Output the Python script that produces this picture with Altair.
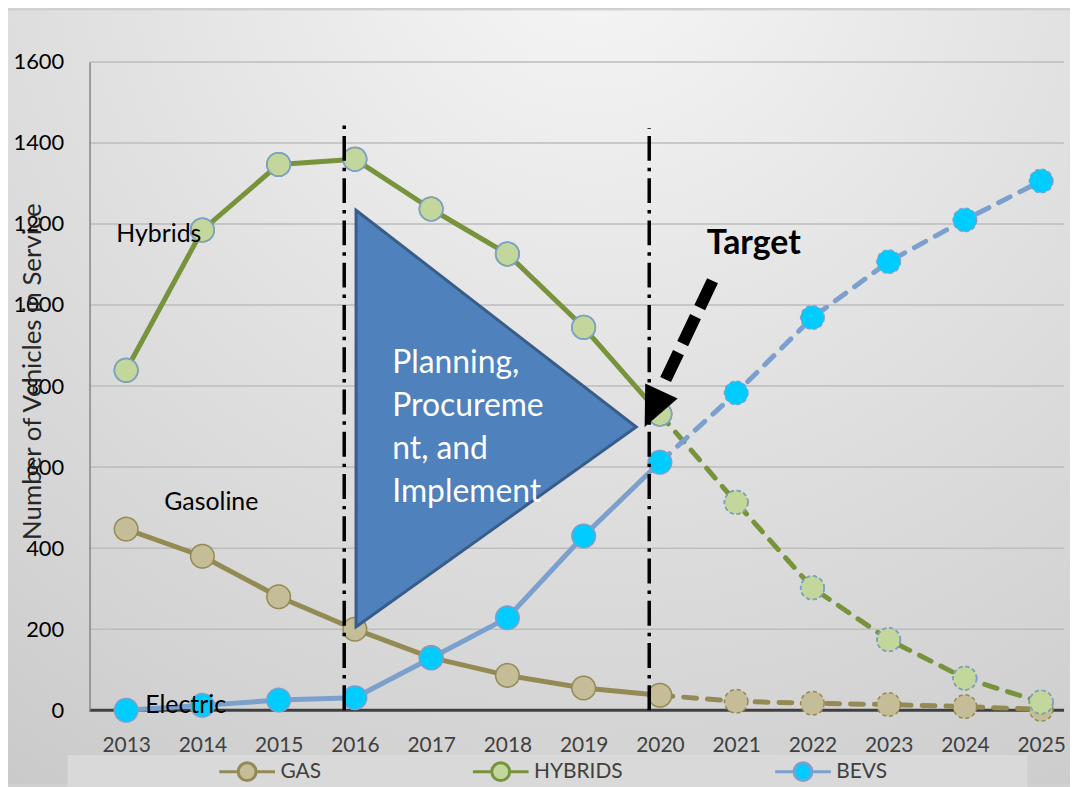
import altair as alt
import pandas as pd

# ---------------- data ----------------
years = list(range(2013, 2026))
gas = [447, 380, 280, 200, 130, 86, 55, 37, 22, 17, 14, 9, 2]
hybrids = [839, 1185, 1347, 1360, 1237, 1126, 945, 731, 513, 302, 174, 79, 20]
bevs = [0, 12, 25, 31, 129, 228, 430, 612, 783, 969, 1107, 1210, 1306]
series_names = ["GAS", "HYBRIDS", "BEVS"]
last_actual_year = 2020

y_ticks = [0, 200, 400, 600, 800, 1000, 1200, 1400, 1600]

# annotations (data coordinates)
phase_line_x = [2015.86, 2019.86]
phase_line_top = [1450, 1436]
tri_x = [2016.015, 2019.69]
tri_top = [1234, 699]
tri_bottom = [206, 699]
tri_text = ["Planning,\nProcureme\nnt, and\nImplement"]
tri_text_x = [2016.49]
tri_text_y = [856]
label_text = ["Hybrids", "Gasoline", "Electric"]
label_x = [2012.87, 2013.5, 2013.25]
label_y = [1175, 513, 12]
target_text = ["Target"]
target_x = [2021.23]
target_y = [1151]
arrow_x = [2020.69]
arrow_y = [1060]
arrow_x2 = [2020.06]
arrow_y2 = [810]
arrow_tip_x = [2019.80]
arrow_tip_y = [699]

# ---------------- styles ----------------
line_colors = ["#948a54", "#77933c", "#7ba0cd"]
fill_colors = ["#c4bd97", "#c3d69b", "#00ccff"]
FONT = "Lato"
W, H = 980, 652
PAD = {"left": 82, "top": 52, "right": 6, "bottom": 75}

rows = []
for name, vals in zip(series_names, [gas, hybrids, bevs]):
    for yr, v in zip(years, vals):
        rows.append({"series": name, "year": yr, "value": v})
df = pd.DataFrame(rows)
df_act = df[df.year <= last_actual_year]
df_proj = df[df.year >= last_actual_year]

xscale = alt.Scale(domain=[2012.52, 2025.3], nice=False, zero=False)
yscale = alt.Scale(domain=[0, 1600], nice=False, zero=False)
stroke_scale = alt.Scale(domain=series_names, range=line_colors)
fill_scale = alt.Scale(domain=series_names, range=fill_colors)

xaxis = alt.Axis(values=years, format="d", grid=False, domain=False, ticks=False,
                 labelPadding=25, labelFont=FONT, labelFontSize=21, labelColor="#404040",
                 labelFlush=False, title=None, zindex=1)
yaxis = alt.Axis(values=y_ticks, format="d", grid=False, ticks=False, domainColor="#868686",
                 domainWidth=1.5, labelPadding=26, labelFont=FONT, labelFontSize=22,
                 labelColor="#000000",
                 title="Number of Vehicles in Service", titleFont=FONT, titleFontSize=26,
                 titleFontWeight="normal", titleColor="#262626", titleX=-57, titleY=311,
                 titleAngle=270, titleAlign="center", titleBaseline="middle", zindex=1)

k = 0.1767
r = 0.32
legend_symbol = (
    f"M-1,0L{-r},0M{r},0L1,0"
    f"M{r},0C{r},{k} {k},{r} 0,{r}C{-k},{r} {-r},{k} {-r},0"
    f"C{-r},{-k} {-k},{-r} 0,{-r}C{k},{-r} {r},{-k} {r},0Z"
)
leg = alt.Legend(orient="none", legendX=129, legendY=684, direction="horizontal", title=None,
                 symbolType=legend_symbol, symbolSize=3136, symbolStrokeWidth=3,
                 symbolFillColor="#ffffff", labelFont=FONT, labelFontSize=21,
                 labelColor="#404040", columnPadding=146, labelOffset=4, padding=0)


def X(field):
    return alt.X(field, scale=xscale, axis=xaxis)


def Y(field):
    return alt.Y(field, scale=yscale, axis=yaxis)


one = pd.DataFrame({"k": [0]})

bg = alt.Chart(one).mark_rect(
    fill=alt.RadialGradient(
        gradient="radial",
        stops=[alt.GradientStop(color="#f7f7f7", offset=0),
               alt.GradientStop(color="#e2e2e2", offset=0.45),
               alt.GradientStop(color="#d3d3d3", offset=0.8),
               alt.GradientStop(color="#c9c9c9", offset=1)],
        x1=0.55, y1=0.05, r1=0, x2=0.55, y2=0.05, r2=1.0),
).encode(x=alt.value(-PAD["left"]), x2=alt.value(W + PAD["right"]),
         y=alt.value(-PAD["top"]), y2=alt.value(H + PAD["bottom"]))

legend_box = alt.Chart(one).mark_rect(fill="#d9d9d9").encode(
    x=alt.value(-22), x2=alt.value(943), y=alt.value(697), y2=alt.value(730))

grid_df = pd.DataFrame({"v": y_ticks[1:]})
grid = alt.Chart(grid_df).mark_rule(color="#bdbdbd", strokeWidth=1.5).encode(y=Y("v:Q"))
zero_line = alt.Chart(pd.DataFrame({"v": [0]})).mark_rule(color="#404040", strokeWidth=3).encode(
    y=Y("v:Q"))

line_act = alt.Chart(df_act).mark_line(strokeWidth=5, strokeJoin="round").encode(
    x=X("year:Q"), y=Y("value:Q"),
    stroke=alt.Stroke("series:N", scale=stroke_scale, legend=leg),
)
line_proj = alt.Chart(df_proj).mark_line(strokeWidth=5, strokeDash=[13, 11], strokeCap="round").encode(
    x=X("year:Q"), y=Y("value:Q"),
    stroke=alt.Stroke("series:N", scale=stroke_scale, legend=leg),
)
dash_cond = alt.condition(alt.datum.year > last_actual_year, alt.value([4, 3]), alt.value([1, 0]))
points = alt.Chart(df).mark_point(filled=True, size=560, strokeWidth=1.5, opacity=1).encode(
    x=X("year:Q"), y=Y("value:Q"),
    fill=alt.Fill("series:N", scale=fill_scale, legend=leg),
    stroke=alt.Stroke("series:N", scale=stroke_scale, legend=leg),
    strokeDash=dash_cond,
)
hyb_outline = alt.Chart(df[df.series == "HYBRIDS"]).mark_point(
    filled=False, size=560, strokeWidth=1.5, stroke="#7ba3d6", opacity=1).encode(
    x=X("year:Q"), y=Y("value:Q"),
    strokeDash=dash_cond,
)

tri = alt.Chart(pd.DataFrame({"x": tri_x, "top": tri_top, "bottom": tri_bottom})).mark_area(
    fill="#4f81bd", stroke="#385d8a", strokeWidth=3, opacity=1).encode(
    x=X("x:Q"), y=Y("top:Q"), y2="bottom:Q",
)
tri_label = alt.Chart(pd.DataFrame({"t": tri_text, "x": tri_text_x, "y": tri_text_y})).mark_text(
    align="left", baseline="middle", font=FONT, fontSize=32, color="white",
    lineBreak="\n", lineHeight=43).encode(x=X("x:Q"), y=Y("y:Q"), text="t:N")

phase_df = pd.DataFrame({"x": phase_line_x, "top": phase_line_top, "base": [0, 0]})
phase_lines = alt.Chart(phase_df).mark_rule(color="black", strokeWidth=3.5,
                                             strokeDash=[25, 7, 3.5, 7]).encode(
    x=X("x:Q"), y=Y("base:Q"), y2="top:Q",
)

labels = alt.Chart(pd.DataFrame({"t": label_text, "x": label_x, "y": label_y})).mark_text(
    align="left", baseline="middle", font=FONT, fontSize=25, color="black").encode(
    x=X("x:Q"), y=Y("y:Q"), text="t:N")

target = alt.Chart(pd.DataFrame({"t": target_text, "x": target_x, "y": target_y})).mark_text(
    align="center", baseline="middle", font=FONT, fontSize=34, fontWeight="bold", color="black").encode(
    x=X("x:Q"), y=Y("y:Q"), text="t:N")

arrow_df = pd.DataFrame({"x": arrow_x, "y": arrow_y, "x2": arrow_x2, "y2": arrow_y2})
arrow_shaft = alt.Chart(arrow_df).mark_rule(color="black", strokeWidth=12, strokeDash=[30, 10]).encode(
    x=X("x:Q"), y=Y("y:Q"), x2="x2:Q", y2="y2:Q")
arrow_head = alt.Chart(pd.DataFrame({"x": arrow_tip_x, "y": arrow_tip_y})).mark_point(
    shape="M0,0L-0.45,-1L0.45,-1Z", filled=True, fill="black", size=6400, angle=25,
    opacity=1, strokeWidth=0).encode(x=X("x:Q"), y=Y("y:Q"))

chart = alt.layer(
    bg, legend_box, grid, zero_line, line_act, line_proj, points, hyb_outline,
    tri, tri_label, phase_lines, labels, arrow_shaft, arrow_head, target,
).properties(
    width=W, height=H,
    autosize=alt.AutoSizeParams(type="none"),
    padding=PAD,
    background="#d0d0d0",
).configure_view(stroke=None)

chart.save("out.html", embed_options={"renderer": "svg", "actions": False})
